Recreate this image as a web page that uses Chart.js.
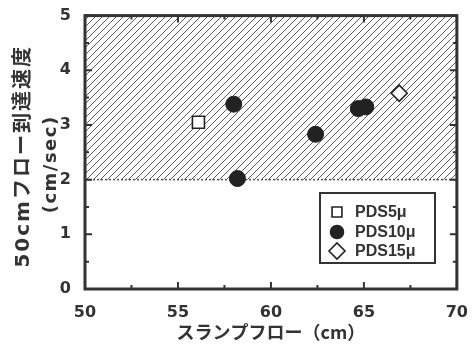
<!DOCTYPE html>
<html>
<head>
<meta charset="utf-8">
<script src="https://cdn.jsdelivr.net/npm/chart.js@4/dist/chart.umd.min.js"></script>
<style>
  html, body { margin: 0; padding: 0; background: #fff; }
  #wrap { width: 474px; height: 344px; }
</style>
</head>
<body>
<div id="wrap"><canvas id="c" width="474" height="344"></canvas></div>
<script>
// Slump flow (cm) vs. 50 cm flow arrival speed (cm/sec)
const slumpPDS5 = [56.1];
const speedPDS5 = [3.05];
const slumpPDS10 = [58.0, 58.2, 62.4, 64.7, 65.1];
const speedPDS10 = [3.38, 2.02, 2.83, 3.30, 3.33];
const slumpPDS15 = [66.9];
const speedPDS15 = [3.58];
const seriesNames = ['PDS5\u03bc', 'PDS10\u03bc', 'PDS15\u03bc'];
const targetLower = 2;          // lower bound of the hatched target zone
const xTickLabels = [50, 55, 60, 65, 70];
const yTickLabels = [0, 1, 2, 3, 4, 5];
const xTitle = 'スランプフロー（cm）';
const yTitle = ['50cmフロー到達速度', '(cm/sec)'];

const INK = '#333';
const toPoints = (xs, ys) => xs.map((x, i) => ({ x: x, y: ys[i] }));

// diagonal hatch pattern for the target zone
function hatchPattern() {
  const s = 7;
  const p = document.createElement('canvas');
  p.width = s; p.height = s;
  const g = p.getContext('2d');
  g.strokeStyle = '#5a5a5a';
  g.lineWidth = 1;
  g.beginPath();
  g.moveTo(-1, s + 1); g.lineTo(s + 1, -1);
  g.moveTo(-1, 1); g.lineTo(1, -1);
  g.moveTo(s - 1, s + 1); g.lineTo(s + 1, s - 1);
  g.stroke();
  return document.getElementById('c').getContext('2d').createPattern(p, 'repeat');
}

const frameAndTicks = {
  id: 'frameAndTicks',
  afterDatasetsDraw(chart) {
    const { ctx, chartArea: a, scales } = chart;
    ctx.save();
    ctx.strokeStyle = INK;
    ctx.lineCap = 'butt';
    // inward ticks on all four sides
    ctx.lineWidth = 2;
    scales.x.ticks.forEach(t => {
      const px = scales.x.getPixelForValue(t.value);
      const len = xTickLabels.includes(t.value) ? 7 : 4;
      ctx.beginPath();
      ctx.moveTo(px, a.bottom); ctx.lineTo(px, a.bottom - len);
      ctx.moveTo(px, a.top); ctx.lineTo(px, a.top + len);
      ctx.stroke();
    });
    scales.y.ticks.forEach(t => {
      const py = scales.y.getPixelForValue(t.value);
      const len = yTickLabels.includes(t.value) ? 7 : 4;
      ctx.beginPath();
      ctx.moveTo(a.left, py); ctx.lineTo(a.left + len, py);
      ctx.moveTo(a.right, py); ctx.lineTo(a.right - len, py);
      ctx.stroke();
    });
    // plot frame
    ctx.lineWidth = 3;
    ctx.strokeRect(a.left, a.top, a.right - a.left, a.bottom - a.top);
    ctx.restore();
  },
  afterDraw(chart) {
    const { ctx, chartArea: a } = chart;
    ctx.save();
    ctx.fillStyle = INK;
    ctx.textAlign = 'center';
    ctx.textBaseline = 'middle';
    // x axis title
    ctx.font = 'bold 18px "Noto Sans CJK JP", sans-serif';
    ctx.letterSpacing = '0px';
    ctx.fillText(xTitle, (a.left + a.right) / 2, 332);
    // y axis title, two rotated lines
    ctx.translate(24, (a.top + a.bottom) / 2 + 4);
    ctx.rotate(-Math.PI / 2);
    ctx.font = 'bold 20px "DejaVu Sans", "Noto Sans CJK JP", sans-serif';
    ctx.letterSpacing = '2px';
    ctx.fillText(yTitle[0], 0, 0);
    ctx.font = 'bold 18px "DejaVu Sans", sans-serif';
    ctx.letterSpacing = '1.5px';
    ctx.fillText(yTitle[1], -8, 27);
    ctx.restore();

    // legend box
    const bx = 320, by = 193, bw = 115, bh = 70;
    ctx.save();
    ctx.fillStyle = '#fff';
    ctx.fillRect(bx, by, bw, bh);
    ctx.strokeStyle = INK;
    ctx.lineWidth = 2;
    ctx.strokeRect(bx, by, bw, bh);
    const rows = [212, 232, 251];
    const sizes = [7, 6.5, 8];
    chart.data.datasets.forEach((ds, i) => {
      if (!ds.label) return;
      ctx.fillStyle = ds.pointBackgroundColor;
      ctx.strokeStyle = ds.pointBorderColor;
      ctx.lineWidth = 1.6;
      Chart.helpers.drawPoint(ctx, { pointStyle: ds.pointStyle, radius: sizes[i], rotation: 0, borderWidth: 1.6 }, 337, rows[i]);
      ctx.fillStyle = INK;
      ctx.textAlign = 'left';
      ctx.textBaseline = 'middle';
      ctx.font = 'bold 16px "Liberation Sans", Arial, sans-serif';
      ctx.fillText(ds.label, 355, rows[i] + 1);
    });
    ctx.restore();
  }
};

const chart = new Chart(document.getElementById('c'), {
  type: 'scatter',
  data: {
    datasets: [
      {
        label: seriesNames[0],
        data: toPoints(slumpPDS5, speedPDS5),
        pointStyle: 'rect', pointRadius: 8.5,
        pointBackgroundColor: '#fff', pointBorderColor: '#222', pointBorderWidth: 1.6
      },
      {
        label: seriesNames[1],
        data: toPoints(slumpPDS10, speedPDS10),
        pointStyle: 'circle', pointRadius: 8,
        pointBackgroundColor: '#222', pointBorderColor: '#222', pointBorderWidth: 1
      },
      {
        label: seriesNames[2],
        data: toPoints(slumpPDS15, speedPDS15),
        pointStyle: 'rectRot', pointRadius: 8,
        pointBackgroundColor: '#fff', pointBorderColor: '#222', pointBorderWidth: 1.6
      },
      {
        // target zone: dotted limit line with hatched fill above it
        type: 'line',
        label: '',
        data: [{ x: 50, y: targetLower }, { x: 70, y: targetLower }],
        borderColor: '#555', borderWidth: 1.5, borderDash: [2, 2],
        pointRadius: 0, fill: 'end', backgroundColor: hatchPattern(),
        order: 10
      }
    ]
  },
  options: {
    responsive: false,
    animation: false,
    devicePixelRatio: 1,
    layout: { padding: { top: 11, right: 17, left: 0, bottom: 0 } },
    plugins: { legend: { display: false }, tooltip: { enabled: false } },
    scales: {
      x: {
        type: 'linear', min: 50, max: 70,
        afterFit: s => { s.height = 55; },
        grid: { display: false },
        border: { display: false },
        ticks: {
          stepSize: 2.5, autoSkip: false, maxRotation: 0, padding: 6,
          color: INK, font: { family: '"DejaVu Sans", sans-serif', size: 16, weight: 'bold' },
          callback: v => xTickLabels.includes(v) ? String(v) : ''
        }
      },
      y: {
        type: 'linear', min: 0, max: 5,
        afterFit: s => { s.width = 85; },
        grid: { display: false },
        border: { display: false },
        ticks: {
          stepSize: 0.5, autoSkip: false, padding: 6,
          color: INK, font: { family: '"DejaVu Sans", sans-serif', size: 16, weight: 'bold' },
          callback: v => yTickLabels.includes(v) ? String(v) : ''
        }
      }
    }
  },
  plugins: [frameAndTicks]
});
</script>
</body>
</html>
